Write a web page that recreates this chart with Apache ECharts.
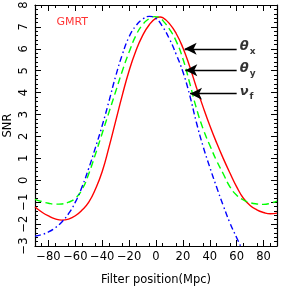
<!DOCTYPE html>
<html><head><meta charset="utf-8">
<script src="https://cdn.jsdelivr.net/npm/echarts@6/dist/echarts.min.js"></script>
<style>html,body{margin:0;padding:0;background:#fff}#c{width:281px;height:291px}</style>
</head><body><div id="c"></div>
<script>
// data (filter position in Mpc, SNR)
var thetaX = [[-90,-1.22],[-85,-1.45],[-80,-1.63],[-75,-1.76],[-70,-1.82],[-65,-1.77],[-60,-1.62],[-55,-1.36],[-50,-1.0],[-45,-0.4],[-40,0.4],[-35,1.5],[-30,2.7],[-25,3.9],[-20,5.0],[-15,5.9],[-10,6.6],[-5,7.1],[0,7.4],[3,7.45],[5,7.42],[10,7.15],[15,6.7],[20,6.05],[25,5.2],[30,4.25],[35,3.35],[40,2.5],[45,1.72],[50,1.0],[55,0.33],[60,-0.3],[65,-0.82],[70,-1.15],[75,-1.35],[80,-1.47],[85,-1.53],[90,-1.5]];
var thetaY = [[-90,-0.87],[-85,-0.97],[-80,-1.05],[-75,-1.09],[-70,-1.08],[-65,-1.0],[-60,-0.82],[-55,-0.42],[-50,0.3],[-45,1.2],[-40,2.15],[-35,3.1],[-30,4.05],[-25,5.0],[-20,5.85],[-15,6.6],[-10,7.1],[-5,7.38],[-1,7.47],[3,7.42],[5,7.3],[10,6.9],[15,6.35],[20,5.55],[25,4.45],[30,3.3],[35,2.35],[40,1.6],[45,0.9],[50,0.3],[55,-0.3],[60,-0.68],[65,-0.9],[70,-1.02],[75,-1.08],[80,-1.1],[85,-1.05],[90,-0.95]];
var nuF = [[-90,-2.55],[-85,-2.48],[-80,-2.36],[-75,-2.17],[-70,-1.9],[-65,-1.52],[-60,-1.0],[-55,-0.3],[-50,0.55],[-45,1.5],[-40,2.5],[-35,3.6],[-30,4.75],[-25,5.75],[-20,6.55],[-15,7.05],[-10,7.35],[-5,7.48],[0,7.38],[5,7.0],[10,6.45],[15,5.75],[20,4.95],[25,3.9],[30,2.65],[35,1.55],[40,0.6],[45,-0.3],[50,-1.15],[55,-1.95],[60,-2.62],[65,-3.25],[70,-3.8]];
var xTicks = [-80,-60,-40,-20,0,20,40,60,80];
var yTicks = [-3,-2,-1,0,1,2,3,4,5,6,7,8];
// annotations
var arrowTips = [[21.3,6.0],[21.8,5.02],[25.3,3.95]];
var arrowTailX = 60;
var annLabels = [['θ','x'],['θ','y'],['ν','f']];
var annPos = [[62.3,6.0],[62.3,5.02],[62.3,3.95]];

function fmt(v){ return v<0 ? '\u2212'+Math.abs(v) : String(v); }

var FONT = 'DejaVu Sans';
var chart = echarts.init(document.getElementById('c'));
var line = {show:true,onZero:false,lineStyle:{color:'#000',width:1.2}};
var xTick = {show:true,inside:true,length:6,customValues:xTicks,lineStyle:{color:'#000',width:1}};
var xMinor = {show:true,splitNumber:4,length:3,lineStyle:{color:'#000',width:1}};
var yTick = {show:true,inside:true,length:6,lineStyle:{color:'#000',width:1}};
var yMinor = {show:true,splitNumber:5,length:3,lineStyle:{color:'#000',width:1}};
var markData = arrowTips.map(function(t){
  return [{coord:[arrowTailX,t[1]]},{coord:[t[0],t[1]]}];
});
chart.setOption({
  animation:false,
  grid:{left:35,right:4,top:5,bottom:45,containLabel:false,outerBoundsMode:'none'},
  xAxis:[
    {type:'value',min:-90,max:90,interval:20,position:'bottom',
      axisLine:line,axisTick:xTick,minorTick:xMinor,splitLine:{show:false},
      axisLabel:{customValues:xTicks,formatter:fmt,color:'#000',fontFamily:FONT,fontSize:11.5,margin:5},
      name:'Filter position(Mpc)',nameLocation:'middle',nameGap:28,nameMoveOverlap:false,
      nameTextStyle:{color:'#000',fontFamily:FONT,fontSize:11.5}},
    {type:'value',min:-90,max:90,interval:20,position:'top',axisLabel:{show:false},
      axisLine:line,axisTick:xTick,minorTick:xMinor,splitLine:{show:false}}
  ],
  yAxis:[
    {type:'value',min:-3,max:8,interval:1,position:'left',
      axisLine:line,axisTick:yTick,minorTick:yMinor,splitLine:{show:false},
      axisLabel:{customValues:yTicks,formatter:fmt,rotate:90,color:'#000',fontFamily:FONT,fontSize:11.5,margin:5},
      name:'SNR',nameLocation:'middle',nameGap:21,nameRotate:90,nameMoveOverlap:false,
      nameTextStyle:{color:'#000',fontFamily:FONT,fontSize:11.5}},
    {type:'value',min:-3,max:8,interval:1,position:'right',axisLabel:{show:false},
      axisLine:line,axisTick:yTick,minorTick:yMinor,splitLine:{show:false}}
  ],
  series:[
    {type:'line',data:thetaX,smooth:true,showSymbol:false,clip:true,
      lineStyle:{color:'#ff0000',width:1.4}},
    {type:'line',data:thetaY,smooth:true,showSymbol:false,clip:true,
      lineStyle:{color:'#00ff00',width:1.4,type:[7,4]}},
    {type:'line',data:nuF,smooth:true,showSymbol:false,clip:true,
      lineStyle:{color:'#0000ff',width:1.4,type:[6,3,1.5,3]}},
    {type:'scatter',symbolSize:0,silent:true,
      data:annPos.map(function(p,i){return {value:p,name:String(i)};}),
      label:{show:true,position:'right',distance:0,
        formatter:function(p){var l=annLabels[+p.name];return '{a|'+l[0]+'}{b|'+l[1]+'}';},
        rich:{a:{fontFamily:FONT,fontSize:13,fontWeight:'bold',fontStyle:'italic',color:'#000',padding:[0,0,4,0]},
              b:{fontFamily:FONT,fontSize:9,fontWeight:'bold',color:'#000',padding:[6,0,0,1]}}},
      markLine:{silent:true,symbol:['none','arrow'],symbolSize:[9,12],
        lineStyle:{color:'#000',width:1.4,type:'solid'},label:{show:false},data:markData}},
    {type:'scatter',symbolSize:0,silent:true,data:[[-74,7.22]],
      label:{show:true,position:'right',distance:0,formatter:'GMRT',
        fontFamily:FONT,fontSize:11,color:'#ff0000'}}
  ]
});
</script></body></html>
